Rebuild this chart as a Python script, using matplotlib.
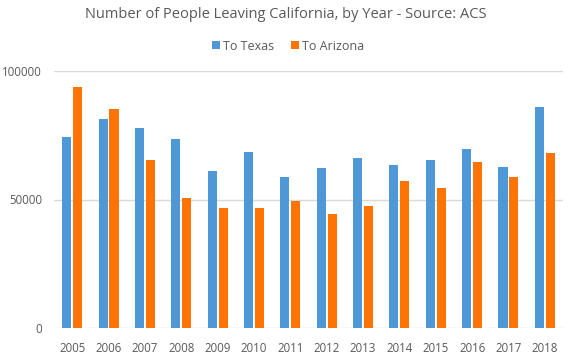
import matplotlib.pyplot as plt
import numpy as np

years = ["2005", "2006", "2007", "2008", "2009", "2010", "2011",
         "2012", "2013", "2014", "2015", "2016", "2017", "2018"]
to_texas = [74300, 81300, 77800, 73500, 61100, 68500, 58800,
            62300, 66100, 63400, 65400, 69600, 62600, 86000]
to_arizona = [93800, 85200, 65400, 50600, 46700, 46700, 49400,
              44400, 47500, 57200, 54500, 64600, 58800, 68100]

BLUE = "#4e98d8"
ORANGE = "#fd7405"
TEXT = "#595959"
GRID = "#d9d9d9"

plt.rcParams["font.family"] = ["Open Sans", "DejaVu Sans"]

fig = plt.figure(figsize=(5.68, 3.57), dpi=100)
ax = fig.add_axes([54 / 568, 29 / 357, 509 / 568, 257 / 357])

x = np.arange(len(years))
w = 0.25
ax.bar(x - 0.15, to_texas, w, color=BLUE, label="To Texas", zorder=3)
ax.bar(x + 0.15, to_arizona, w, color=ORANGE, label="To Arizona", zorder=3)

ax.set_xlim(-0.5, len(years) - 0.5)
ax.set_ylim(0, 100000)
ax.set_yticks([0, 50000, 100000])
ax.set_yticklabels(["0", "50000", "100000"])
ax.set_xticks(x)
ax.set_xticklabels(years)
ax.tick_params(axis="both", length=0, labelsize=8.3, colors=TEXT)
ax.tick_params(axis="y", pad=8.6)
ax.tick_params(axis="x", pad=10)
ax.grid(axis="y", color=GRID, linewidth=1, zorder=0)
for s in ax.spines.values():
    s.set_visible(False)

fig.text(286 / 568, 1 - 14 / 357, "Number of People Leaving California, by Year - Source: ACS",
         ha="center", va="center", fontsize=10.5, color=TEXT)
fig.legend(loc="center", bbox_to_anchor=(288 / 568, 1 - 46 / 357), ncol=2,
           frameon=False, fontsize=9, labelcolor=TEXT, handlelength=0.65,
           handleheight=0.65, handletextpad=0.25, columnspacing=1.3)

fig.savefig("out.png", dpi=100)
